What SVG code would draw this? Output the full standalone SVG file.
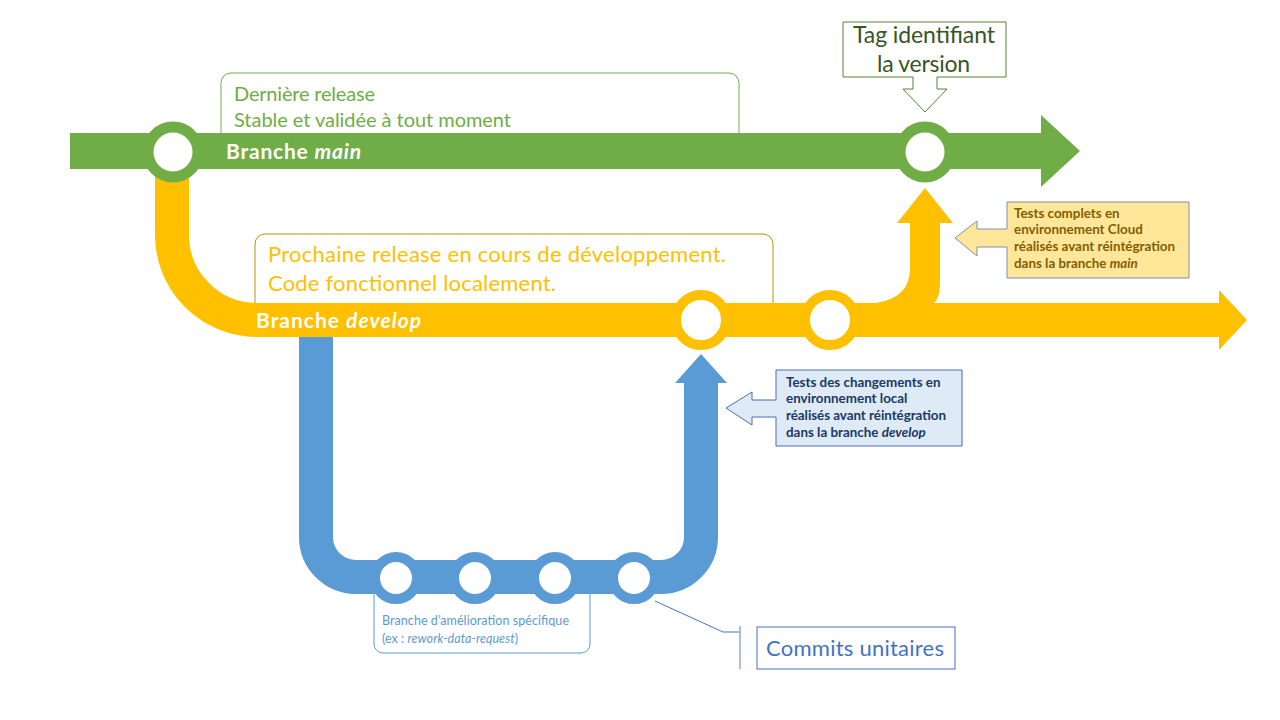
<svg xmlns="http://www.w3.org/2000/svg" width="1280" height="720" viewBox="0 0 1280 720">
<style>
text{font-family:Lato,"Liberation Sans",sans-serif}
.g{fill:#70ad47}.y{fill:#ffc000}.b{fill:#5b9bd5}
.ring-g{fill:#fff;stroke:#70ad47;stroke-width:11}
.ring-y{fill:#fff;stroke:#ffc000;stroke-width:10}
.ring-b{fill:#fff;stroke:#5b9bd5;stroke-width:10}
.lbl{fill:#fff;font-weight:bold;font-size:21px}
.note{font-size:13.4px;font-weight:bold}
</style>
<rect width="1280" height="720" fill="#fff"/>

<g id="note-main">
<rect x="221" y="73" width="518" height="75" rx="10" fill="#fff" stroke="#70ad47" stroke-width="1"/>
<text x="234" y="101" font-size="20" fill="#70ad47" textLength="141">Dernière  release</text>
<text x="234" y="127" font-size="20" fill="#70ad47" textLength="277">Stable et validée à tout moment</text>
</g>
<g id="note-develop">
<rect x="255" y="234" width="518" height="80" rx="10" fill="#fff" stroke="#bf9000" stroke-width="1"/>
<text x="268" y="262" font-size="22" fill="#ffc000" textLength="458">Prochaine release en cours de développement.</text>
<text x="268" y="291" font-size="22" fill="#ffc000" textLength="288">Code fonctionnel localement.</text>
</g>
<g id="note-feature">
<rect x="374" y="580" width="216" height="73" rx="9" fill="#fff" stroke="#5b9bd5" stroke-width="1"/>
<text x="382" y="625" font-size="12.5" fill="#5b9bd5" textLength="187">Branche d’amélioration spécifique</text>
<text x="382" y="643" font-size="12.5" fill="#5b9bd5" textLength="136">(ex : <tspan font-style="italic">rework-data-request</tspan>)</text>
</g>

<g id="branch-feature">
<path d="M316 330 V537 A40 40 0 0 0 356 577 H661 A40 40 0 0 0 701 537 V380" fill="none" stroke="#5b9bd5" stroke-width="34"/>
<polygon class="b" points="675,383 701,354 727,383"/>
</g>

<g id="branch-develop">
<path d="M172 175 V235 A85 85 0 0 0 257 320 H1221" fill="none" stroke="#ffc000" stroke-width="34"/>
<polygon class="y" points="1219,290 1247,320 1219,350"/>
<path class="y" d="M860 304 Q910 304 910 268 V223 H897 L925 188 L953 223 H940 V280 Q940 304 930 304 Z"/>
</g>

<g id="branch-main">
<path class="g" d="M70 133 H1041 V115 L1080 151 L1041 187 V169 H70 Z"/>
</g>

<g id="commits-main">
<circle class="ring-g" cx="173" cy="152" r="25"/>
<circle class="ring-g" cx="925" cy="152" r="25"/>
</g>
<g id="commits-develop">
<circle class="ring-y" cx="701" cy="320" r="25"/>
<circle class="ring-y" cx="830" cy="320" r="25"/>
</g>
<g id="commits-feature">
<circle class="ring-b" cx="396" cy="578" r="21"/>
<circle class="ring-b" cx="475" cy="578" r="21"/>
<circle class="ring-b" cx="555" cy="578" r="21"/>
<circle class="ring-b" cx="634" cy="578" r="21"/>
</g>

<g id="labels">
<text class="lbl" x="226" y="159" textLength="135">Branche <tspan font-style="italic">main</tspan></text>
<text class="lbl" x="256" y="328" textLength="165">Branche <tspan font-style="italic">develop</tspan></text>
</g>

<g id="tag">
<path d="M843 22 H1006 V77 H937 V89 H947 L925 112 L903 89 H913 V77 H843 Z" fill="#fff" stroke="#548235" stroke-width="1"/>
<text x="853" y="43" font-size="23" fill="#375623" textLength="142">Tag identifiant</text>
<text x="877" y="72" font-size="23" fill="#375623" textLength="93">la version</text>
</g>

<g id="callout-cloud">
<path d="M1007 202 H1189 V278 H1007 V247 H977 V256 L955 238 L977 221 V229 H1007 Z" fill="#ffe699" stroke="#7f8fa9" stroke-width="1"/>
<g class="note" fill="#7f6000">
<text x="1014" y="218">Tests complets en</text>
<text x="1014" y="234">environnement Cloud</text>
<text x="1014" y="251" textLength="161">réalisés avant réintégration</text>
<text x="1014" y="268">dans la branche <tspan font-style="italic">main</tspan></text>
</g>
</g>

<g id="callout-local">
<path d="M776 370 H962 V446 H776 V417 H752 V425 L726 408 L752 392 V400 H776 Z" fill="#deebf7" stroke="#4a6fb0" stroke-width="1"/>
<g class="note" fill="#203864">
<text x="786" y="387">Tests des changements en</text>
<text x="786" y="403">environnement local</text>
<text x="786" y="420" textLength="160">réalisés avant réintégration</text>
<text x="786" y="437">dans la branche <tspan font-style="italic">develop</tspan></text>
</g>
</g>

<g id="connectors">
<polyline points="655,601 723,632 740,632" fill="none" stroke="#4472c4" stroke-width="1"/>
<line x1="740" y1="626" x2="740" y2="669" stroke="#8faadc" stroke-width="1.5"/>
</g>

<g id="commits-label">
<rect x="757" y="627" width="198" height="42" fill="#fff" stroke="#4472c4" stroke-width="1"/>
<text x="766" y="656" font-size="22" fill="#4472c4" textLength="178">Commits unitaires</text>
</g>
</svg>
